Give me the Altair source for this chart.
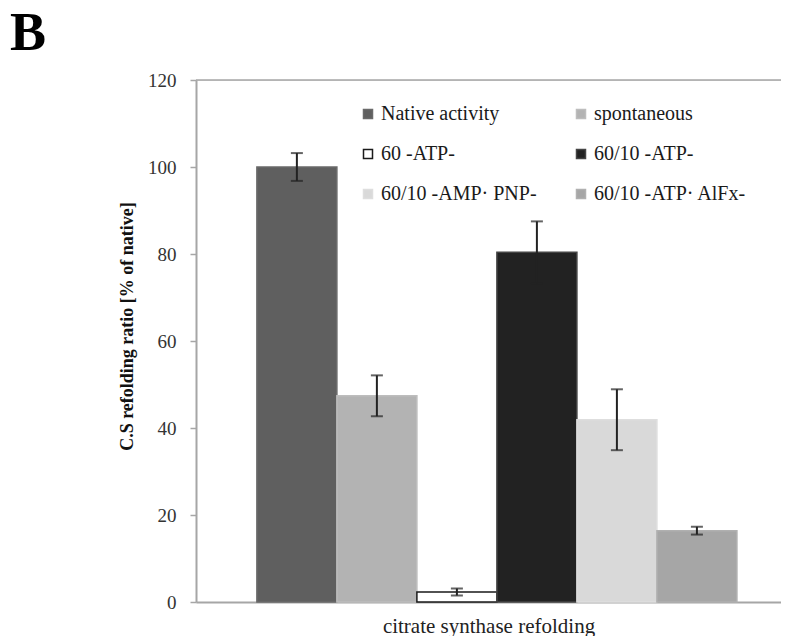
import altair as alt
import pandas as pd

series = ["Native activity", "spontaneous", "60 -ATP-", "60/10 -ATP-",
          "60/10 -AMP\u00b7 PNP-", "60/10 -ATP\u00b7 AlFx-"]
values = [100.0, 47.4, 2.3, 80.4, 41.9, 16.4]
errors = [3.2, 4.7, 0.8, 7.1, 7.0, 0.9]
fills = ["#5f5f5f", "#b3b3b3", "#ffffff", "#222222", "#d9d9d9", "#a6a6a6"]
strokes = ["#6a6a6a", "#bdbdbd", "#1a1a1a", "#444444", "#dedede", "#b0b0b0"]
y_ticks = [0, 20, 40, 60, 80, 100, 120]

# legend is filled column by column: reorder so rows read as in the reference
legend_order = [0, 2, 4, 1, 3, 5]
leg_domain = [series[i] for i in legend_order]
leg_fills = [fills[i] for i in legend_order]
leg_strokes = [strokes[i] for i in legend_order]

df = pd.DataFrame({
    "series": series,
    "value": values,
    "lo": [v - e for v, e in zip(values, errors)],
    "hi": [v + e for v, e in zip(values, errors)],
})

FONT = "Liberation Serif"

x_enc = alt.X(
    "series:N", sort=series,
    scale=alt.Scale(paddingInner=0, paddingOuter=0.656, align=0.58),
    axis=alt.Axis(labels=False, ticks=False, domainColor="#a6a6a6", domainWidth=2,
                  title="citrate synthase refolding", titleFont=FONT, titleFontSize=21,
                  titleFontWeight="normal", titleColor="#222222", titlePadding=13),
)
y_scale = alt.Scale(domain=[0, 120], nice=False)

base = alt.Chart(df)

bars = base.mark_bar(strokeWidth=1.5).encode(
    x=x_enc,
    y=alt.Y("value:Q", scale=y_scale,
            axis=alt.Axis(values=y_ticks, grid=False, domainColor="#a6a6a6", domainWidth=2,
                          tickColor="#a6a6a6", tickWidth=1.5, tickSize=6,
                          labelFont=FONT, labelFontSize=19, labelColor="#333333",
                          labelPadding=14,
                          title="C.S refolding ratio [% of native]", titleFont=FONT,
                          titleFontSize=18, titleFontWeight="bold", titleColor="#111111",
                          titleAngle=270, titleAlign="center", titleBaseline="middle",
                          titleX=-69, titleY=246)),
    fill=alt.Fill("series:N",
                  scale=alt.Scale(domain=leg_domain, range=leg_fills),
                  legend=alt.Legend(title=None, orient="none", legendX=162, legendY=24,
                                    columns=2, columnPadding=34, rowPadding=20,
                                    symbolType="square", symbolSize=81,
                                    symbolStrokeWidth=1.5, labelFont=FONT,
                                    labelFontSize=20, labelColor="#1a1a1a",
                                    labelOffset=3, padding=0, labelLimit=400)),
    stroke=alt.Stroke("series:N",
                      scale=alt.Scale(domain=leg_domain, range=leg_strokes), legend=None),
)

rules = base.mark_rule(color="#222222", strokeWidth=2).encode(
    x=alt.X("series:N", sort=series), y="lo:Q", y2="hi:Q")
caps_lo = base.mark_tick(color="#222222", thickness=2, size=12).encode(
    x=alt.X("series:N", sort=series), y="lo:Q")
caps_hi = base.mark_tick(color="#222222", thickness=2, size=12).encode(
    x=alt.X("series:N", sort=series), y="hi:Q")

top_line = alt.Chart(pd.DataFrame({"t": [120]})).mark_rule(
    color="#a6a6a6", strokeWidth=1.5).encode(y=alt.Y("t:Q", scale=y_scale))

chart = alt.layer(bars, rules, caps_lo, caps_hi, top_line).properties(
    width=585, height=522,
    autosize=alt.AutoSizeParams(type="none"),
    padding={"left": 188, "top": 72, "right": 0, "bottom": 34},
    title=alt.TitleParams("B", anchor="start", frame="group", font=FONT, fontSize=54,
                          fontWeight="bold", color="#000000", dx=-186, offset=10),
).configure_view(stroke=None).configure(background="#ffffff")

chart.save("out.html", embed_options={"renderer": "svg", "actions": False})
